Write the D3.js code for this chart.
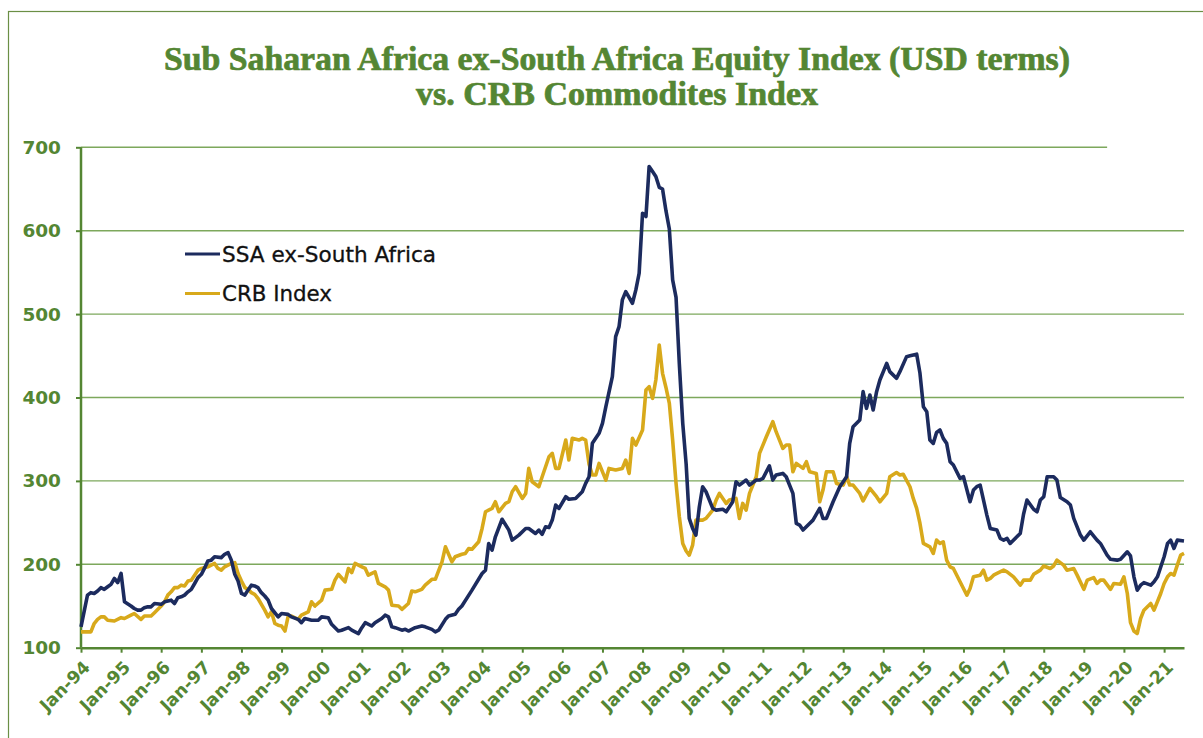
<!DOCTYPE html>
<html lang="en">
  <head>
    <meta charset="utf-8">
    <title>SSA ex-South Africa vs CRB</title>
    <script src="https://d3js.org/d3.v7.js"></script>
    <style>
      body { margin: 0; background: white; }
    </style>
  </head>

  <body>
  <script>

    // titles and legend labels
    const titleLines = ["Sub Saharan Africa ex-South Africa Equity Index (USD terms)",
                        "vs. CRB Commodites Index"];
    const seriesNames = ["SSA ex-South Africa", "CRB Index"];
    const yTicks = [100, 200, 300, 400, 500, 600, 700];

    // SSA ex-South Africa equity index
    const ssaData = [
      ["1994-01",125],["1994-03",163],["1994-04",166],["1994-05",165],["1994-06",168],["1994-07",172],
      ["1994-08",170],["1994-09",173],["1994-10",176],["1994-11",183],["1994-12",178],["1995-01",189],
      ["1995-02",155],["1995-04",150],["1995-05",147],["1995-06",145],["1995-07",145],["1995-08",148],
      ["1995-09",149],["1995-10",149],["1995-11",153],["1996-01",152],["1996-02",155],["1996-04",157],
      ["1996-05",153],["1996-06",160],["1996-07",161],["1996-08",163],["1996-09",167],["1996-10",170],
      ["1996-11",177],["1996-12",184],["1997-01",188],["1997-02",196],["1997-03",204],["1997-04",205],
      ["1997-05",209],["1997-07",208],["1997-08",212],["1997-09",214],["1997-10",205],["1997-11",188],
      ["1997-12",180],["1998-01",165],["1998-02",163],["1998-03",169],["1998-04",175],["1998-05",174],
      ["1998-06",172],["1998-07",166],["1998-08",162],["1998-09",157],["1998-10",147],["1998-12",137],
      ["1999-01",141],["1999-03",140],["1999-04",137],["1999-06",134],["1999-07",130],["1999-08",135],
      ["1999-10",133],["1999-12",133],["2000-01",137],["2000-03",136],["2000-04",128],["2000-06",120],
      ["2000-07",121],["2000-09",124],["2000-10",121],["2000-12",117],["2001-01",124],["2001-02",130],
      ["2001-04",126],["2001-05",130],["2001-07",135],["2001-08",139],["2001-09",137],["2001-10",125],
      ["2001-11",124],["2002-01",121],["2002-02",122],["2002-03",120],["2002-05",124],["2002-07",126],
      ["2002-08",125],["2002-10",122],["2002-11",119],["2002-12",121],["2003-02",134],["2003-03",138],
      ["2003-05",140],["2003-06",146],["2003-07",150],["2003-10",169],["2004-01",189],["2004-02",193],
      ["2004-03",225],["2004-04",217],["2004-05",233],["2004-07",254],["2004-09",241],["2004-10",229],
      ["2004-12",235],["2005-02",243],["2005-03",243],["2005-05",237],["2005-06",241],["2005-07",236],
      ["2005-08",245],["2005-09",244],["2005-10",253],["2005-11",271],["2005-12",267],["2006-02",281],
      ["2006-03",278],["2006-05",279],["2006-07",287],["2006-08",297],["2006-09",305],["2006-10",345],
      ["2006-12",357],["2007-01",369],["2007-02",389],["2007-04",425],["2007-05",473],["2007-06",485],
      ["2007-07",517],["2007-08",527],["2007-10",513],["2007-11",529],["2007-12",549],["2008-01",621],
      ["2008-02",617],["2008-03",677],["2008-04",671],["2008-05",665],["2008-06",652],["2008-07",650],
      ["2008-08",624],["2008-09",602],["2008-10",541],["2008-11",520],["2008-12",440],["2009-01",369],
      ["2009-02",320],["2009-03",255],["2009-04",243],["2009-05",235],["2009-06",269],["2009-07",293],
      ["2009-08",287],["2009-10",267],["2009-11",265],["2010-01",266],["2010-02",263],["2010-04",275],
      ["2010-05",299],["2010-06",295],["2010-08",301],["2010-09",295],["2010-11",301],["2010-12",301],
      ["2011-01",303],["2011-03",318],["2011-04",301],["2011-05",307],["2011-07",309],["2011-08",305],
      ["2011-10",285],["2011-11",249],["2011-12",247],["2012-01",241],["2012-03",249],["2012-04",253],
      ["2012-06",267],["2012-07",255],["2012-08",255],["2012-10",275],["2012-12",293],["2013-01",299],
      ["2013-02",305],["2013-03",345],["2013-04",365],["2013-06",373],["2013-07",407],["2013-08",387],
      ["2013-09",403],["2013-10",385],["2013-11",407],["2013-12",421],["2014-02",441],["2014-03",431],
      ["2014-05",423],["2014-06",431],["2014-08",449],["2014-09",450],["2014-11",452],["2014-12",429],
      ["2015-01",389],["2015-02",383],["2015-03",349],["2015-04",345],["2015-05",358],["2015-06",361],
      ["2015-07",351],["2015-08",345],["2015-09",323],["2015-10",319],["2015-12",303],["2016-01",305],
      ["2016-03",275],["2016-04",289],["2016-05",293],["2016-06",295],["2016-08",259],["2016-09",243],
      ["2016-11",241],["2016-12",231],["2017-01",229],["2017-02",231],["2017-03",225],["2017-05",233],
      ["2017-06",237],["2017-07",260],["2017-08",277],["2017-10",266],["2017-11",263],["2017-12",277],
      ["2018-01",281],["2018-02",305],["2018-04",305],["2018-05",301],["2018-06",280],["2018-08",275],
      ["2018-09",271],["2018-10",255],["2018-12",235],["2019-01",229],["2019-03",239],["2019-05",229],
      ["2019-06",225],["2019-08",211],["2019-09",206],["2019-11",205],["2019-12",206],["2020-02",215],
      ["2020-03",210],["2020-04",185],["2020-05",169],["2020-06",175],["2020-07",178],["2020-09",175],
      ["2020-10",179],["2020-11",185],["2021-01",209],["2021-02",225],["2021-03",229],["2021-04",219],
      ["2021-05",229],["2021-07",228]
    ];

    // CRB commodities index
    const crbData = [
      ["1994-01",119],["1994-02",119],["1994-03",119],["1994-04",119],["1994-05",129],["1994-06",134],
      ["1994-07",137],["1994-08",137],["1994-09",133],["1994-11",132],["1995-01",136],["1995-02",135],
      ["1995-04",139],["1995-05",141],["1995-07",134],["1995-08",138],["1995-10",138],["1995-11",142],
      ["1996-01",150],["1996-02",155],["1996-03",163],["1996-04",167],["1996-05",172],["1996-06",172],
      ["1996-07",175],["1996-08",174],["1996-09",180],["1996-10",181],["1996-12",193],["1997-01",195],
      ["1997-03",197],["1997-05",201],["1997-06",195],["1997-07",193],["1997-08",197],["1997-10",201],
      ["1997-11",202],["1997-12",189],["1998-01",180],["1998-02",172],["1998-03",170],["1998-04",166],
      ["1998-05",164],["1998-06",159],["1998-08",145],["1998-09",137],["1998-10",143],["1998-11",129],
      ["1998-12",127],["1999-01",126],["1999-02",120],["1999-03",137],["1999-04",138],["1999-06",134],
      ["1999-07",139],["1999-09",143],["1999-10",155],["1999-11",150],["2000-01",157],["2000-02",169],
      ["2000-04",170],["2000-05",181],["2000-06",188],["2000-08",179],["2000-09",195],["2000-10",190],
      ["2000-11",201],["2001-01",197],["2001-02",195],["2001-03",187],["2001-05",191],["2001-06",177],
      ["2001-08",173],["2001-09",169],["2001-10",151],["2001-12",150],["2002-01",146],["2002-03",153],
      ["2002-04",168],["2002-05",167],["2002-07",170],["2002-08",175],["2002-10",182],["2002-11",182],
      ["2003-01",203],["2003-02",221],["2003-04",203],["2003-05",209],["2003-07",212],["2003-08",213],
      ["2003-09",219],["2003-10",218],["2003-12",227],["2004-01",243],["2004-02",263],["2004-04",267],
      ["2004-05",275],["2004-06",263],["2004-08",273],["2004-09",275],["2004-10",287],["2004-11",293],
      ["2005-01",279],["2005-02",285],["2005-03",315],["2005-04",299],["2005-06",293],["2005-07",305],
      ["2005-09",329],["2005-10",333],["2005-11",315],["2005-12",315],["2006-02",349],["2006-03",325],
      ["2006-04",351],["2006-06",349],["2006-07",351],["2006-08",349],["2006-09",320],["2006-10",307],
      ["2006-11",307],["2006-12",321],["2007-02",301],["2007-03",315],["2007-05",313],["2007-07",315],
      ["2007-08",325],["2007-09",309],["2007-10",351],["2007-11",343],["2008-01",361],["2008-02",409],
      ["2008-03",413],["2008-04",399],["2008-05",421],["2008-06",463],["2008-07",429],["2008-08",412],
      ["2008-09",393],["2008-10",349],["2008-11",297],["2008-12",257],["2009-01",225],["2009-02",216],
      ["2009-03",211],["2009-04",223],["2009-05",253],["2009-07",253],["2009-08",255],["2009-10",265],
      ["2009-11",277],["2009-12",285],["2010-02",273],["2010-03",277],["2010-05",279],["2010-06",255],
      ["2010-07",273],["2010-08",265],["2010-09",285],["2010-11",305],["2010-12",333],["2011-02",353],
      ["2011-04",371],["2011-05",359],["2011-07",339],["2011-08",343],["2011-09",343],["2011-10",311],
      ["2011-11",321],["2012-01",315],["2012-02",323],["2012-03",311],["2012-05",309],["2012-06",275],
      ["2012-07",289],["2012-08",311],["2012-10",311],["2012-11",297],["2013-01",295],["2013-02",305],
      ["2013-03",295],["2013-04",295],["2013-06",285],["2013-07",276],["2013-09",291],["2013-11",281],
      ["2013-12",275],["2014-02",285],["2014-03",305],["2014-05",310],["2014-06",307],["2014-07",308],
      ["2014-09",293],["2014-10",279],["2014-11",267],["2014-12",249],["2015-01",225],["2015-03",221],
      ["2015-04",213],["2015-05",229],["2015-06",225],["2015-07",227],["2015-08",205],["2015-09",197],
      ["2015-10",195],["2015-12",179],["2016-01",171],["2016-02",163],["2016-03",171],["2016-04",185],
      ["2016-06",187],["2016-07",193],["2016-08",181],["2016-09",183],["2016-10",187],["2016-11",189],
      ["2017-01",193],["2017-02",191],["2017-04",185],["2017-05",180],["2017-06",175],["2017-07",181],
      ["2017-09",181],["2017-10",188],["2017-12",193],["2018-01",198],["2018-03",195],["2018-04",198],
      ["2018-05",205],["2018-07",199],["2018-08",193],["2018-10",195],["2018-11",187],["2019-01",170],
      ["2019-02",181],["2019-04",184],["2019-05",177],["2019-06",181],["2019-07",181],["2019-09",170],
      ["2019-10",177],["2019-12",176],["2020-01",185],["2020-02",165],["2020-03",130],["2020-04",120],
      ["2020-05",117],["2020-06",135],["2020-07",145],["2020-09",153],["2020-10",145],["2020-12",165],
      ["2021-01",177],["2021-02",185],["2021-03",189],["2021-04",187],["2021-05",199],["2021-06",211],
      ["2021-07",213]
    ];

    const w = 1203;
    const h = 738;
    const margin = {top: 147.3, right: 19, bottom: 90.3, left: 81};
    const green = "#548633";
    const gridGreen = "#7da85c";
    const navy = "#1c2b5e";
    const gold = "#d8a91b";

    const parse = d3.timeParse("%Y-%m");

    const xScale = d3.scaleTime()
                     .domain([parse("1994-01"), parse("2021-07")])
                     .range([margin.left, w - margin.right]);

    const yScale = d3.scaleLinear()
                     .domain([100, 700])
                     .range([h - margin.bottom, margin.top]);

    const svg = d3.select("body")
                  .append("svg")
                  .attr("width", w)
                  .attr("height", h);

    svg.append("rect")
       .attr("width", w)
       .attr("height", h)
       .attr("fill", "white");

    // outer frame (runs off the right and bottom edges)
    svg.append("rect")
       .attr("x", 8.5)
       .attr("y", 11.5)
       .attr("width", 1300)
       .attr("height", 1000)
       .attr("fill", "none")
       .attr("stroke", "#6b8f45")
       .attr("stroke-width", 1.2);

    // title
    svg.append("g")
       .selectAll("text")
       .data(titleLines)
       .enter().append("text")
       .attr("x", 617)
       .attr("y", (d, i) => 69.5 + i * 35.5)
       .attr("text-anchor", "middle")
       .attr("font-family", "Liberation Serif, serif")
       .attr("font-weight", "bold")
       .attr("font-size", 33)
       .attr("textLength", (d, i) => i === 0 ? 906 : 402)
       .attr("lengthAdjust", "spacingAndGlyphs")
       .attr("fill", green)
       .attr("stroke", green)
       .attr("stroke-width", 0.7)
       .text(d => d);

    // gridlines
    svg.append("g")
       .selectAll("line")
       .data(yTicks.filter(d => d > 100))
       .enter().append("line")
       .attr("x1", margin.left)
       .attr("x2", d => d === 700 ? xScale(parse("2019-08")) : w - margin.right)
       .attr("y1", d => yScale(d))
       .attr("y2", d => yScale(d))
       .attr("stroke", gridGreen)
       .attr("stroke-width", 1.4);

    // axes
    const yAxis = d3.axisLeft(yScale)
                    .tickValues(yTicks)
                    .tickSize(5)
                    .tickPadding(15);

    const xAxis = d3.axisBottom(xScale)
                    .ticks(d3.timeYear.every(1))
                    .tickFormat(d3.timeFormat("%b-%y"))
                    .tickSize(5)
                    .tickSizeOuter(0);

    const gy = svg.append("g")
                  .attr("transform", `translate(${margin.left}, 0)`)
                  .call(yAxis);

    const gx = svg.append("g")
                  .attr("transform", `translate(0, ${h - margin.bottom})`)
                  .call(xAxis);

    [gx, gy].forEach(g => {
      g.select(".domain").attr("stroke", green).attr("stroke-width", 2.5);
      g.selectAll(".tick line").attr("stroke", green).attr("stroke-width", 2);
      g.selectAll(".tick text")
       .attr("fill", green)
       .attr("font-family", "DejaVu Sans, sans-serif")
       .attr("font-weight", "bold")
       .attr("font-size", 17.5);
    });
    gy.select(".domain").attr("d", `M0,${yScale(700)}V${yScale(100)}`);
    gy.selectAll(".tick text").attr("font-size", 18.5);

    gx.selectAll(".tick text")
      .attr("text-anchor", "end")
      .attr("dx", 0)
      .attr("dy", 0)
      .attr("transform", "translate(4, 15) rotate(-45)");

    // series lines
    const line = d3.line()
                   .x(d => xScale(parse(d[0])))
                   .y(d => yScale(d[1]));

    svg.append("path")
       .datum(crbData)
       .attr("d", line)
       .attr("fill", "none")
       .attr("stroke", gold)
       .attr("stroke-width", 3.6)
       .attr("stroke-linejoin", "round");

    svg.append("path")
       .datum(ssaData)
       .attr("d", line)
       .attr("fill", "none")
       .attr("stroke", navy)
       .attr("stroke-width", 3.6)
       .attr("stroke-linejoin", "round");

    // legend
    const legend = svg.append("g")
                      .selectAll("g")
                      .data(seriesNames)
                      .enter().append("g")
                      .attr("transform", (d, i) => `translate(185, ${254 + i * 39.5})`);

    legend.append("line")
          .attr("x1", 0)
          .attr("x2", 35)
          .attr("stroke", (d, i) => i === 0 ? navy : gold)
          .attr("stroke-width", 3);

    legend.append("text")
          .attr("x", 37)
          .attr("y", 7.5)
          .attr("font-family", "DejaVu Sans, sans-serif")
          .attr("font-size", 20.5)
          .attr("textLength", (d, i) => i === 0 ? 214 : 110)
          .attr("lengthAdjust", "spacingAndGlyphs")
          .attr("fill", "#111")
          .attr("stroke", "#111")
          .attr("stroke-width", 0.3)
          .text(d => d);

  </script>
  </body>
</html>
